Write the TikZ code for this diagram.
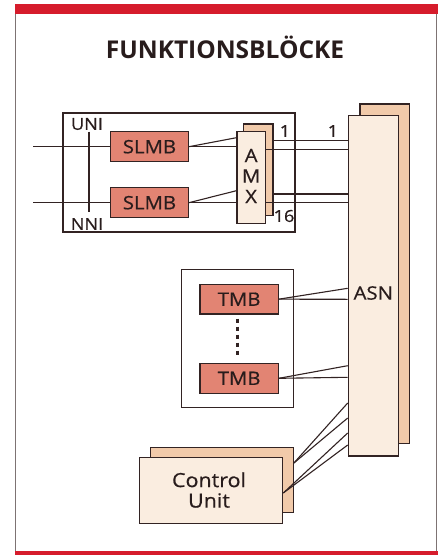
\documentclass[tikz,border=0pt]{standalone}
\usepackage{fontspec}
\setmainfont[FakeStretch=1.1,FakeBold=0.6]{Open Sans}
\newfontfamily\titlefont{Open Sans}
\definecolor{linec}{RGB}{50,35,35}
\definecolor{textc}{RGB}{40,28,28}
\definecolor{salmon}{RGB}{226,132,115}
\definecolor{beige}{RGB}{250,237,224}
\definecolor{peach}{RGB}{241,202,170}
\definecolor{barred}{RGB}{214,28,44}
\definecolor{framec}{RGB}{125,115,115}
\begin{document}
\begin{tikzpicture}[x=1pt,y=-1pt,
  ln/.style={draw=linec, line width=1.1pt},
  shape box/.style={draw=linec, line width=1.2pt, inner sep=0pt, rectangle},
  frontbox/.style={shape box, fill=beige},
  backbox/.style={shape box, fill=peach},
  redbox/.style={shape box, fill=salmon},
  plainbox/.style={shape box, fill=white},
  lbl/.style={inner sep=0pt, text=textc, font=\fontsize{18.5}{21}\selectfont},
  small/.style={inner sep=0pt, text=textc, font=\fontsize{16.5}{19}\selectfont}
]
\useasboundingbox (0,0) rectangle (438,555);
% frame
\fill[white] (0,0) rectangle (438,555);
\draw[framec, line width=0.8pt] (15,9) rectangle (436,553);
\fill[barred] (15,4) rectangle (437.5,14);
\fill[barred] (15,551) rectangle (438,555);
% title
\node[inner sep=0pt, text=textc, font=\titlefont\fontsize{24.5}{28}\bfseries\selectfont] (title) at (225,47) {FUNKTIONSBLÖCKE};

% upper block
\node[plainbox, minimum width=232pt, minimum height=119pt] (upper) at (179,172.5) {};
\node[small] (uni) at (87,124) {UNI};
\node[small] (nni) at (87,224) {NNI};
\draw[ln] ([xshift=2pt,yshift=-1.5pt]uni.south) -- ([xshift=2pt,yshift=6pt]nni.north);

\node[redbox, minimum width=77.6pt, minimum height=30pt, lbl] (slmb1) at (149.5,146.7) {SLMB};
\node[redbox, minimum width=77.6pt, minimum height=30pt, lbl] (slmb2) at (149.5,202.7) {SLMB};
\coordinate (in1) at (33,146.7);
\coordinate (in2) at (33,202.7);
\draw[ln] (in1) -- (slmb1.west);
\draw[ln] (in2) -- (slmb2.west);

\node[backbox, minimum width=29.5pt, minimum height=91.5pt] (amxback) at (258.25,169.75) {};
\node[frontbox, minimum width=28.3pt, minimum height=91.6pt] (amx) at (251.15,177.5) {};
\node[lbl] (amxA) at (251.15,155.5) {A};
\node[lbl] (amxM) at (251.15,176) {M};
\node[lbl] (amxX) at (251.15,196.5) {X};

\draw[ln] (slmb1.east) -- (amx.west |- 0,137.7);
\draw[ln] (slmb1.east) -- (amx.west |- 0,146.7);
\draw[ln] (slmb2.east) -- (amx.west |- 0,190.7);
\draw[ln] (slmb2.east) -- (amx.west |- 0,202.7);

% ASN
\node[backbox, minimum width=49.3pt, minimum height=339.3pt] (asnback) at (384.65,273.65) {};
\node[frontbox, minimum width=50pt, minimum height=340.3pt] (asn) at (373.3,285.85) {};
\node[lbl] (asnlbl) at (373.3,293) {ASN};

\draw[ln] (amxback.east |- 0,140.7) -- (asn.west |- 0,140.7);
\draw[ln] (amx.east |- 0,149.3) -- (asn.west |- 0,149.3);
\draw[ln] (amxback.east |- 0,194) -- (asn.west |- 0,194);
\draw[ln] (amx.east |- 0,202.7) -- (asn.west |- 0,202.7);

\node[small] (n1a) at (285,131) {1};
\node[small] (n1b) at (333,131) {1};
\node[small] (n16) at (284,216) {16};

% TMB block
\node[plainbox, minimum width=111.6pt, minimum height=138.4pt] (tmbblock) at (237.5,338.5) {};
\node[redbox, minimum width=78.3pt, minimum height=29.7pt, lbl] (tmb1) at (239.15,299.15) {TMB};
\node[redbox, minimum width=78.3pt, minimum height=30pt, lbl] (tmb2) at (239.15,378.3) {TMB};
\draw[draw=linec, line width=3pt, dash pattern=on 4.5pt off 3.5pt]
  ([xshift=-1.5pt,yshift=-4pt]tmb1.south) -- ([xshift=-1.5pt,yshift=7pt]tmb2.north);

\draw[ln] (tmb1.east) -- (asn.west |- 0,288.3);
\draw[ln] (tmb1.east) -- (asn.west |- 0,299.3);
\draw[ln] (tmb2.east) -- (asn.west |- 0,365.7);
\draw[ln] (tmb2.east) -- (asn.west |- 0,377.3);

% Control unit
\node[backbox, minimum width=142.6pt, minimum height=65pt] (cuback) at (222,480.2) {};
\draw[ln] (cuback.east |- 0,463) -- (asn.west |- 0,403);
\draw[ln] (cuback.east |- 0,463) -- (asn.west |- 0,418);
\node[frontbox, minimum width=143.4pt, minimum height=65.6pt] (cu) at (211,490.5) {};
\node[lbl, align=center, font=\fontsize{19.5}{20.5}\selectfont] (culbl) at (209,490) {Control\\Unit};
\draw[ln] (cu.east |- 0,493) -- (asn.west |- 0,433);
\draw[ln] (cu.east |- 0,493) -- (asn.west |- 0,445);
\end{tikzpicture}
\end{document}
